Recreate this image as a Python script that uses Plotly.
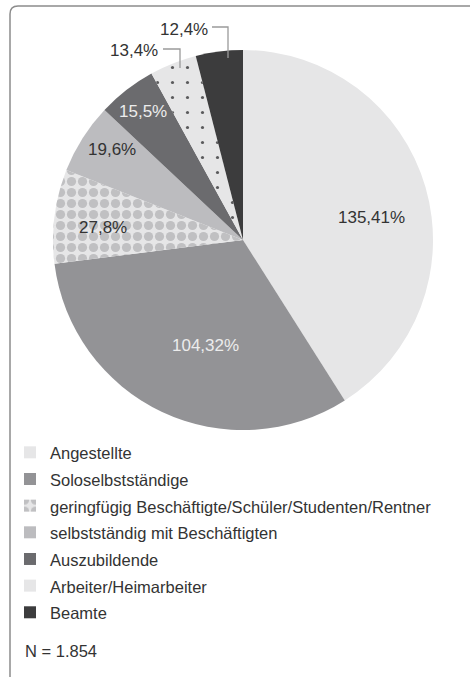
import plotly.graph_objects as go

categories = ["Angestellte", "Soloselbstständige",
              "geringfügig Beschäftigte/Schüler/Studenten/Rentner",
              "selbstständig mit Beschäftigten", "Auszubildende",
              "Arbeiter/Heimarbeiter", "Beamte"]
shares = [41, 32, 8, 6, 5, 4, 4]
slice_labels = ["135,41%", "104,32%", "27,8%", "19,6%", "15,5%", "13,4%", "12,4%"]
n_text = "N = 1.854"

W, H = 470, 677
FONT = "Liberation Sans, Arial, sans-serif"

def px(x):
    return x / W

def py(y):
    return 1 - y / H

colors = ["#e6e6e7", "#939396", "#e6e6e7", "#bcbcbf", "#6b6b6e", "#e6e6e7", "#3c3c3d"]
shapes_p = ["", "", ".", "", "", ".", ""]
fg = ["#000", "#000", "#c0c0c2", "#000", "#000", "#5a5a5c", "#000"]
sizes = [8, 8, 11, 8, 8, 15, 8]
solid = [0.3, 0.3, 0.55, 0.3, 0.3, 0.035, 0.3]

cx, cy, r = 243, 240, 190

legend_names = [f"<span style='font-size:16.5px'>{c}</span>" for c in categories]

fig = go.Figure(go.Pie(
    labels=legend_names, values=shares, sort=False, direction="clockwise",
    rotation=0, textinfo="none", hoverinfo="percent",
    automargin=False,
    marker=dict(colors=colors, line=dict(width=0),
                pattern=dict(shape=shapes_p, fgcolor=fg, bgcolor=colors,
                             size=sizes, solidity=solid)),
    domain=dict(x=[px(cx - r), px(cx + r)], y=[py(cy + r), py(cy - r)]),
))

# label positions (pixels) and colours
label_pos = [(371, 217), (205, 345), (103, 227), (112, 150), (143, 111), (134, 51), (184, 29)]
label_col = ["#333333", "#ececec", "#333333", "#333333", "#ececec", "#333333", "#333333"]
anns = []
for t, (x, y), c in zip(slice_labels, label_pos, label_col):
    anns.append(dict(x=px(x), y=py(y), xref="paper", yref="paper", text=t,
                     showarrow=False, xanchor="center", yanchor="middle",
                     font=dict(family=FONT, size=17, color=c)))
anns.append(dict(x=px(23), y=py(651), xref="paper", yref="paper", text=n_text,
                 showarrow=False, xanchor="left", yanchor="middle",
                 font=dict(family=FONT, size=16.5, color="#333333")))

lc = "#9a9a9a"
shapes = [
    dict(type="path", xref="paper", yref="paper",
         path=f"M{px(163)},{py(49)} L{px(180)},{py(49)} L{px(180)},{py(68)}",
         line=dict(color=lc, width=1.3)),
    dict(type="path", xref="paper", yref="paper",
         path=f"M{px(212)},{py(27)} L{px(228)},{py(27)} L{px(228)},{py(58)}",
         line=dict(color=lc, width=1.3)),
    dict(type="path", xref="paper", yref="paper",
         path=f"M{px(10)},{py(677)} L{px(10)},{py(14)} Q{px(10)},{py(6)} {px(18)},{py(6)} L{px(470)},{py(6)}",
         line=dict(color="#8c8c8c", width=1.5)),
]

fig.update_layout(
    width=W, height=H, margin=dict(l=0, r=0, t=0, b=0, autoexpand=False),
    paper_bgcolor="white", plot_bgcolor="white",
    showlegend=True,
    legend=dict(x=px(10), y=py(434),
                xanchor="left", yanchor="top", bgcolor="rgba(0,0,0,0)",
                font=dict(family=FONT, size=18.2, color="#333333"),
                traceorder="normal"),
    annotations=anns, shapes=shapes,
)

fig.write_html("out.html", config={"displayModeBar": False},
               post_script="document.body.style.margin='0';document.body.style.overflow='hidden';")
